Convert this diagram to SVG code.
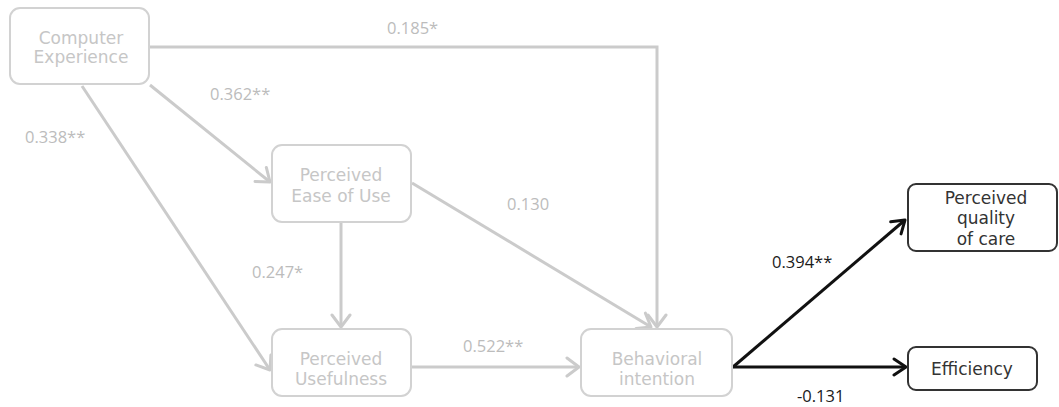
<svg xmlns="http://www.w3.org/2000/svg" width="1059" height="407" viewBox="0 0 1059 407">
  <defs>
    <style>
      .box-faint { fill: #ffffff; stroke: #d2d2d2; stroke-width: 2; }
      .box-dark { fill: #ffffff; stroke: #333333; stroke-width: 2; }
      .name { font-family: "DejaVu Sans", "Liberation Sans", sans-serif; font-size: 17px; text-anchor: middle; }
      .name-faint { fill: #c6c6c6; }
      .name-dark { fill: #333333; }
      .coef { font-family: "Open Sans", "Liberation Sans", sans-serif; font-size: 16.5px; }
      .coef-faint { fill: #bcbcbc; }
      .coef-dark { fill: #1a1a1a; }
      .edge-faint { fill: none; stroke: #cbcbcb; stroke-width: 3; marker-end: url(#head-faint); }
      .edge-dark { fill: none; stroke: #111111; stroke-width: 3; marker-end: url(#head-dark); }
    </style>
    <marker id="head-faint" markerUnits="userSpaceOnUse" markerWidth="18" markerHeight="22" refX="14" refY="11" orient="auto">
      <path d="M2,2 L14,11 L2,20" fill="none" stroke="#cbcbcb" stroke-width="3" stroke-linecap="round" stroke-linejoin="round"/>
    </marker>
    <marker id="head-dark" markerUnits="userSpaceOnUse" markerWidth="18" markerHeight="22" refX="14" refY="11" orient="auto">
      <path d="M2,3 L14,11 L2,19" fill="none" stroke="#111111" stroke-width="3" stroke-linecap="round" stroke-linejoin="round"/>
    </marker>
  </defs>

  <rect width="1059" height="407" fill="#ffffff"/>

  <!-- connectors -->
  <g id="connectors">
    <polyline class="edge-faint" points="149,47 657,47 657,327"/>
    <line class="edge-faint" x1="150" y1="85" x2="270" y2="182"/>
    <line class="edge-faint" x1="82" y1="86" x2="270" y2="370"/>
    <line class="edge-faint" x1="341" y1="222" x2="341" y2="327"/>
    <line class="edge-faint" x1="412" y1="183" x2="651" y2="327"/>
    <line class="edge-faint" x1="411" y1="367" x2="579" y2="367"/>
    <line class="edge-dark" x1="733" y1="367" x2="905" y2="220"/>
    <line class="edge-dark" x1="733" y1="367" x2="906" y2="367"/>

    <text class="coef coef-faint" x="387" y="34">0.185*</text>
    <text class="coef coef-faint" x="210" y="100">0.362**</text>
    <text class="coef coef-faint" x="25" y="143">0.338**</text>
    <text class="coef coef-faint" x="507" y="210">0.130</text>
    <text class="coef coef-faint" x="252" y="278">0.247*</text>
    <text class="coef coef-faint" x="463" y="352">0.522**</text>
    <text class="coef coef-dark" x="772" y="268">0.394**</text>
    <text class="coef coef-dark" x="797" y="402">-0.131</text>
  </g>

  <!-- nodes -->
  <g id="computer-experience">
    <rect class="box-faint" x="10" y="8" width="139" height="76" rx="10"/>
    <text class="name name-faint" x="81" y="44">Computer</text>
    <text class="name name-faint" x="81" y="63">Experience</text>
  </g>

  <g id="perceived-ease-of-use">
    <rect class="box-faint" x="272" y="145" width="139" height="77" rx="10"/>
    <text class="name name-faint" x="341" y="181">Perceived</text>
    <text class="name name-faint" x="341" y="202">Ease of Use</text>
  </g>

  <g id="perceived-usefulness">
    <rect class="box-faint" x="272" y="329" width="139" height="67" rx="10"/>
    <text class="name name-faint" x="341" y="365">Perceived</text>
    <text class="name name-faint" x="341" y="385">Usefulness</text>
  </g>

  <g id="behavioral-intention">
    <rect class="box-faint" x="581" y="329" width="151" height="67" rx="10"/>
    <text class="name name-faint" x="657" y="365">Behavioral</text>
    <text class="name name-faint" x="657" y="385">intention</text>
  </g>

  <g id="perceived-quality-of-care">
    <rect class="box-dark" x="908" y="184" width="149" height="67" rx="8"/>
    <text class="name name-dark" x="986" y="204">Perceived</text>
    <text class="name name-dark" x="986" y="224">quality</text>
    <text class="name name-dark" x="986" y="245">of care</text>
  </g>

  <g id="efficiency">
    <rect class="box-dark" x="908" y="347" width="129" height="43" rx="8"/>
    <text class="name name-dark" x="972" y="375">Efficiency</text>
  </g>
</svg>
